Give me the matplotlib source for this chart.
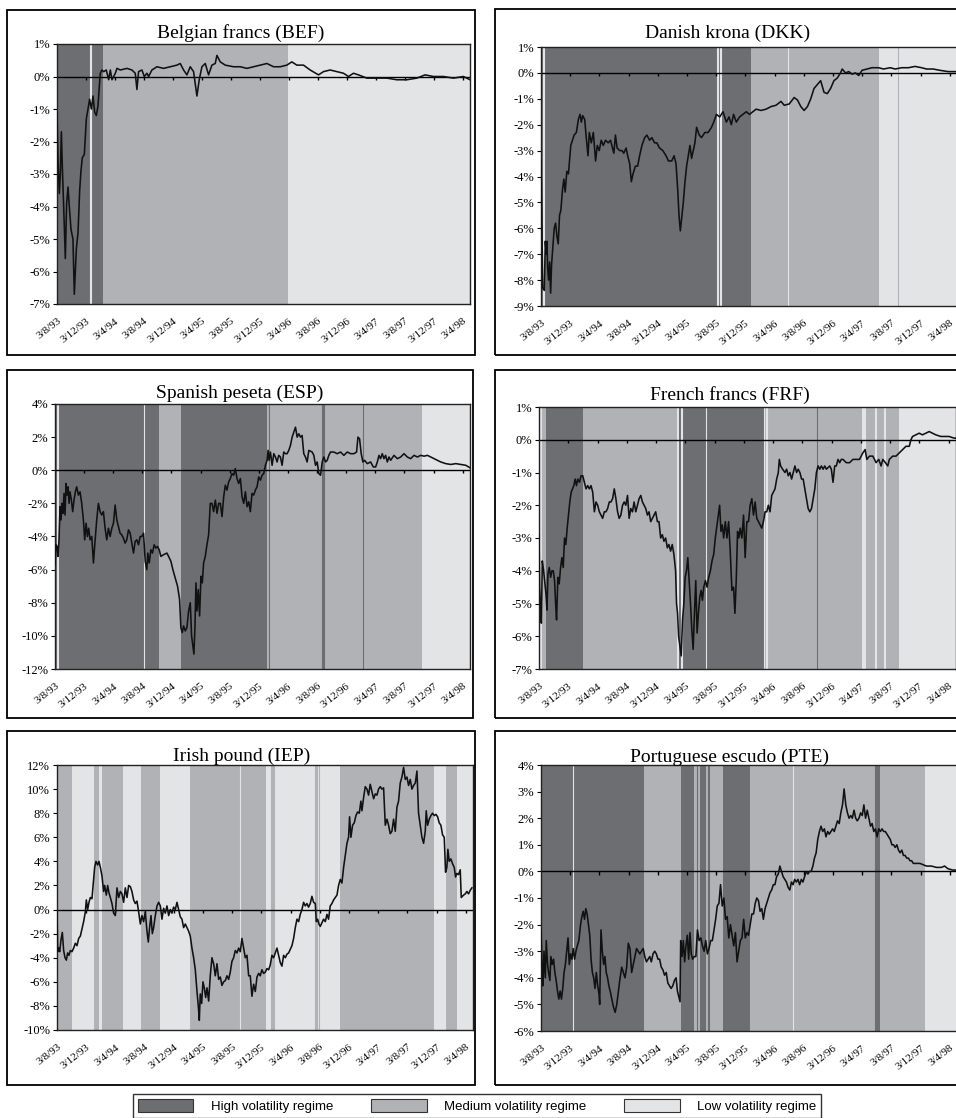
import numpy as np
import matplotlib
matplotlib.use('Agg')
import matplotlib.pyplot as plt
from matplotlib.patches import Rectangle, Patch

plt.rcParams['font.family'] = 'Liberation Serif'

W, H = 956, 1118

# x axis: months since 3 Aug 1993, one label every 4 months
tick_pos = list(range(0, 57, 4))
tick_labels = ['3/8/93', '3/12/93', '3/4/94', '3/8/94', '3/12/94', '3/4/95', '3/8/95',
               '3/12/95', '3/4/96', '3/8/96', '3/12/96', '3/4/97', '3/8/97', '3/12/97', '3/4/98']

HIGH, MED, LOW = '#6d6e71', '#b1b2b5', '#e3e4e6'
level_color = {'H': HIGH, 'M': MED, 'L': LOW}

# (month, deviation in %)
bef_pts = [(0, -1.1), (0.14, -2.6), (0.32, -3.6), (0.46, -3.0), (0.6, -1.7), (0.74, -2.8), (0.92, -4.0),
           (1.15, -5.6), (1.33, -3.9), (1.52, -3.4), (1.7, -4.0), (1.93, -4.7), (2.2, -5.0), (2.39, -6.7),
           (2.67, -5.3), (2.9, -4.8), (3.13, -3.5), (3.31, -2.9), (3.49, -2.5), (3.77, -2.4), (4.05, -1.3),
           (4.28, -1.0), (4.5, -0.7), (4.74, -1.0), (4.97, -0.6), (5.2, -1.1), (5.43, -1.2), (5.66, -0.9),
           (5.84, -0.3), (5.98, 0.1), (6.2, 0.2), (6.44, 0.15), (6.8, 0.2), (7.13, -0.1), (7.36, 0.2),
           (7.59, -0.1), (8.05, 0.1), (8.28, 0.25), (8.74, 0.2), (9.66, 0.25), (10.34, 0.2), (10.8, 0.1),
           (11.03, -0.4), (11.26, 0.15), (11.72, 0.2), (12.05, 0.0), (12.41, 0.1), (12.64, 0.0), (13.1, 0.2),
           (13.79, 0.3), (14.71, 0.25), (15.63, 0.3), (16.55, 0.35), (17.01, 0.4), (17.47, 0.2), (17.93, 0.05),
           (18.39, 0.3), (18.85, 0.15), (19.31, -0.6), (19.63, -0.1), (20.0, 0.3), (20.46, 0.4), (20.92, 0.05),
           (21.38, 0.35), (21.84, 0.4), (22.07, 0.65), (22.53, 0.45), (23.22, 0.35), (24.37, 0.3), (25.29, 0.3),
           (26.21, 0.25), (27.13, 0.3), (28.05, 0.35), (28.97, 0.4), (29.89, 0.3), (30.8, 0.3), (31.72, 0.35),
           (32.41, 0.45), (33.1, 0.35), (34.02, 0.35), (34.94, 0.2), (36.09, 0.05), (36.78, 0.15), (37.7, 0.2),
           (38.62, 0.15), (39.54, 0.1), (40.23, 0.0), (40.92, 0.1), (41.61, 0.05), (42.76, -0.05), (44.14, -0.05),
           (45.52, -0.05), (46.9, -0.1), (48.28, -0.1), (49.66, -0.05), (50.8, 0.05), (51.95, 0.0), (53.33, 0.0),
           (54.71, -0.05), (56.09, 0.0), (57.0, -0.1)]

dkk_pts = [(0, -3.4), (0.09, -5.0), (0.23, -8.3), (0.45, -8.4), (0.59, -6.5), (0.73, -7.0), (0.82, -6.5),
           (0.91, -7.5), (1.04, -8.0), (1.18, -7.3), (1.32, -8.5), (1.45, -7.4), (1.63, -6.7), (1.81, -6.0),
           (2.0, -5.8), (2.18, -6.3), (2.36, -6.6), (2.54, -5.5), (2.72, -5.3), (2.95, -4.5), (3.13, -4.1),
           (3.31, -4.6), (3.54, -3.8), (3.76, -3.9), (4.08, -2.8), (4.31, -2.6), (4.54, -2.4), (4.85, -2.3),
           (5.12, -1.8), (5.35, -1.6), (5.53, -1.9), (5.71, -1.65), (5.99, -1.8), (6.17, -2.4), (6.44, -3.2),
           (6.62, -2.3), (6.89, -2.7), (7.17, -2.3), (7.48, -3.4), (7.71, -2.8), (7.98, -3.0), (8.25, -2.6),
           (8.53, -2.8), (8.84, -2.6), (9.21, -2.7), (9.52, -2.6), (9.98, -3.1), (10.2, -2.4), (10.43, -2.9),
           (10.79, -3.0), (11.11, -3.0), (11.34, -3.1), (11.66, -2.9), (11.88, -3.2), (12.15, -3.5), (12.38, -4.2),
           (12.61, -3.9), (12.93, -3.6), (13.24, -3.6), (13.51, -3.2), (13.83, -2.8), (14.2, -2.5), (14.51, -2.4),
           (14.88, -2.6), (15.19, -2.5), (15.56, -2.7), (15.87, -2.7), (16.24, -2.9), (16.69, -3.0), (17.14, -3.2),
           (17.46, -3.4), (17.91, -3.4), (18.23, -3.2), (18.5, -3.5), (18.73, -4.5), (18.91, -5.5), (19.09, -6.1),
           (19.27, -5.6), (19.5, -5.0), (19.73, -4.2), (19.95, -3.6), (20.18, -3.2), (20.41, -2.8), (20.63, -3.3),
           (20.86, -3.0), (21.09, -2.7), (21.32, -2.1), (21.68, -2.4), (21.99, -2.5), (22.45, -2.3), (22.9, -2.3),
           (23.36, -2.1), (23.67, -1.9), (24.04, -1.6), (24.49, -1.7), (24.94, -1.5), (25.4, -1.9), (25.76, -1.7),
           (26.08, -2.0), (26.39, -1.6), (26.76, -1.9), (27.21, -1.7), (27.66, -1.6), (28.12, -1.5), (28.57, -1.6),
           (29.02, -1.5), (29.48, -1.4), (30.16, -1.45), (30.84, -1.4), (31.52, -1.3), (32.2, -1.25), (32.88, -1.1),
           (33.33, -1.25), (34.01, -1.2), (34.69, -0.95), (35.15, -1.05), (35.6, -1.3), (36.05, -1.45), (36.51, -1.3),
           (36.96, -1.0), (37.41, -0.6), (37.87, -0.45), (38.32, -0.3), (38.78, -0.75), (39.23, -0.8), (39.68, -0.6),
           (40.14, -0.3), (40.59, -0.2), (41.04, 0.0), (41.27, 0.15), (41.72, 0.0), (42.18, 0.05), (42.63, -0.05),
           (43.08, 0.0), (43.54, -0.1), (43.99, 0.1), (44.67, 0.15), (45.35, 0.2), (46.26, 0.2), (46.94, 0.15),
           (47.85, 0.2), (48.53, 0.15), (49.43, 0.2), (50.34, 0.2), (51.25, 0.25), (52.15, 0.2), (52.83, 0.15),
           (53.74, 0.15), (54.65, 0.1), (55.78, 0.05), (57.0, 0.05)]

esp_pts = [(0, -5.7), (0.14, -4.5), (0.28, -4.6), (0.41, -5.2), (0.55, -4.2), (0.69, -2.2), (0.83, -3.0),
           (0.96, -2.0), (1.1, -2.6), (1.24, -1.4), (1.38, -2.7), (1.51, -0.8), (1.65, -1.5), (1.79, -1.0),
           (1.93, -2.0), (2.06, -1.3), (2.25, -1.8), (2.43, -2.5), (2.61, -1.8), (2.8, -1.3), (2.98, -1.0),
           (3.21, -1.5), (3.44, -1.3), (3.67, -2.0), (3.9, -3.0), (4.08, -4.2), (4.27, -3.2), (4.45, -4.0),
           (4.63, -3.5), (4.82, -4.2), (5.05, -4.0), (5.28, -5.6), (5.46, -4.5), (5.73, -3.0), (5.96, -2.0),
           (6.19, -2.5), (6.42, -2.7), (6.65, -2.5), (6.88, -3.5), (7.11, -4.2), (7.34, -3.5), (7.57, -4.0),
           (7.8, -3.5), (8.03, -3.2), (8.26, -2.1), (8.49, -3.0), (8.72, -3.4), (8.94, -3.8), (9.17, -3.9),
           (9.4, -4.1), (9.63, -4.4), (9.86, -4.2), (10.09, -3.6), (10.32, -3.8), (10.55, -4.4), (10.78, -5.0),
           (11.01, -4.3), (11.24, -4.2), (11.47, -4.5), (11.7, -4.0), (11.93, -4.0), (12.16, -3.8), (12.39, -5.5),
           (12.61, -6.0), (12.75, -5.0), (12.94, -5.6), (13.17, -4.8), (13.39, -5.0), (13.62, -4.5), (13.85, -4.7),
           (14.08, -4.6), (14.31, -4.8), (14.54, -5.2), (14.91, -5.1), (15.37, -5.0), (15.6, -5.2), (15.92, -5.5),
           (16.19, -6.0), (16.51, -6.5), (16.83, -7.0), (17.11, -7.8), (17.29, -9.5), (17.48, -9.8), (17.66, -9.4),
           (17.89, -9.7), (18.12, -9.5), (18.35, -8.5), (18.58, -8.0), (18.76, -10.0), (18.94, -10.6), (19.08, -11.1),
           (19.22, -9.5), (19.36, -6.8), (19.5, -8.5), (19.68, -7.2), (19.86, -8.8), (20.05, -6.4), (20.23, -6.8),
           (20.41, -5.6), (20.64, -5.2), (20.87, -4.5), (21.1, -3.9), (21.33, -2.0), (21.56, -2.0), (21.79, -2.5),
           (22.02, -1.8), (22.25, -2.6), (22.48, -2.0), (22.71, -2.0), (22.94, -2.8), (23.17, -1.6), (23.39, -0.9),
           (23.62, -1.2), (23.85, -0.7), (24.08, -0.5), (24.31, -0.2), (24.54, -0.3), (24.77, 0.1), (25.0, -0.5),
           (25.23, -0.8), (25.46, -0.5), (25.69, -1.6), (25.92, -2.0), (26.15, -1.3), (26.38, -2.2), (26.61, -1.9),
           (26.83, -2.5), (27.06, -1.4), (27.29, -1.5), (27.52, -1.2), (27.75, -1.0), (27.98, -0.4), (28.21, -0.6),
           (28.44, -0.3), (28.67, -0.2), (28.9, 0.3), (29.13, 0.6), (29.27, 1.2), (29.4, 0.6), (29.59, 1.1),
           (29.82, 0.3), (30.05, 1.0), (30.28, 0.8), (30.5, 0.5), (30.73, 0.9), (30.96, 0.8), (31.19, 0.3),
           (31.42, 1.1), (31.65, 1.0), (31.88, 1.0), (32.11, 1.2), (32.34, 1.5), (32.57, 2.0), (32.8, 2.3),
           (33.03, 2.6), (33.26, 2.0), (33.49, 2.2), (33.72, 2.0), (33.94, 2.1), (34.17, 1.0), (34.4, 0.8),
           (34.63, 0.5), (34.86, 1.2), (35.32, 1.1), (35.55, 0.9), (35.78, 0.3), (36.01, 0.5), (36.24, -0.2),
           (36.47, -0.3), (36.7, 0.5), (36.93, 0.8), (37.16, 0.5), (37.39, 0.6), (37.61, 0.9), (37.84, 1.1),
           (38.3, 1.1), (38.76, 1.0), (39.22, 1.1), (39.68, 0.9), (40.14, 1.1), (40.6, 1.0), (41.06, 1.0),
           (41.42, 1.1), (41.61, 2.0), (41.83, 1.9), (42.06, 1.0), (42.29, 0.5), (42.52, 0.6), (42.89, 0.4),
           (43.35, 0.5), (43.72, 0.2), (44.04, 0.2), (44.27, 0.5), (44.5, 0.9), (44.72, 0.7), (44.95, 1.0),
           (45.18, 0.7), (45.41, 0.9), (45.64, 0.5), (45.87, 0.8), (46.1, 0.6), (46.56, 0.9), (47.02, 0.7),
           (47.48, 0.8), (47.94, 1.0), (48.39, 0.8), (48.85, 0.7), (49.31, 0.9), (49.77, 0.8), (50.23, 0.9),
           (50.69, 0.85), (51.15, 0.9), (51.61, 0.8), (52.06, 0.7), (52.52, 0.6), (52.98, 0.5), (53.67, 0.4),
           (54.36, 0.35), (55.05, 0.4), (55.73, 0.35), (56.42, 0.3), (57.0, 0.15)]

frf_pts = [(0, -2.9), (0.09, -4.5), (0.18, -5.0), (0.32, -5.6), (0.45, -3.7), (0.63, -4.0), (0.77, -4.3),
           (0.95, -4.7), (1.09, -5.2), (1.22, -4.1), (1.4, -3.9), (1.59, -4.2), (1.77, -4.0), (1.95, -4.0),
           (2.13, -4.3), (2.27, -5.0), (2.4, -5.5), (2.58, -4.2), (2.76, -4.4), (2.95, -3.9), (3.13, -3.6),
           (3.31, -3.9), (3.49, -3.0), (3.67, -3.2), (3.85, -2.7), (4.03, -2.3), (4.21, -1.9), (4.4, -1.6),
           (4.58, -1.5), (4.76, -1.4), (4.94, -1.2), (5.12, -1.4), (5.3, -1.2), (5.53, -1.3), (5.75, -1.1),
           (5.98, -1.1), (6.21, -1.3), (6.43, -1.5), (6.66, -1.4), (6.89, -1.5), (7.11, -1.4), (7.34, -1.6),
           (7.57, -2.2), (7.79, -1.9), (8.02, -2.0), (8.25, -2.2), (8.47, -2.3), (8.7, -2.4), (8.93, -2.2),
           (9.15, -2.2), (9.38, -2.1), (9.61, -1.9), (9.83, -1.9), (10.06, -1.8), (10.29, -1.5), (10.51, -1.8),
           (10.74, -2.2), (10.96, -2.4), (11.19, -2.3), (11.42, -2.0), (11.64, -1.9), (11.87, -2.0), (12.1, -1.7),
           (12.32, -2.4), (12.55, -2.1), (12.78, -2.2), (13.0, -1.9), (13.23, -2.2), (13.46, -2.0), (13.68, -1.8),
           (13.91, -1.7), (14.14, -1.9), (14.36, -2.0), (14.59, -2.1), (14.82, -2.3), (15.04, -2.2), (15.27, -2.5),
           (15.5, -2.4), (15.72, -2.3), (15.95, -2.2), (16.18, -2.5), (16.4, -2.5), (16.63, -3.0), (16.86, -2.9),
           (17.08, -3.1), (17.31, -3.0), (17.54, -3.3), (17.76, -3.2), (17.99, -3.4), (18.21, -3.2), (18.44, -3.5),
           (18.67, -4.0), (18.8, -5.0), (18.94, -5.3), (19.08, -6.0), (19.26, -6.3), (19.44, -6.6), (19.62, -5.5),
           (19.8, -5.0), (19.98, -4.2), (20.16, -4.0), (20.34, -3.6), (20.53, -4.3), (20.71, -5.0), (20.89, -5.8),
           (21.07, -6.4), (21.25, -5.3), (21.43, -4.3), (21.61, -5.9), (21.79, -5.3), (21.98, -4.8), (22.16, -4.6),
           (22.34, -4.9), (22.52, -4.5), (22.75, -4.3), (22.97, -4.5), (23.2, -4.2), (23.43, -4.0), (23.65, -3.7),
           (23.88, -3.5), (24.1, -3.0), (24.33, -2.6), (24.56, -2.2), (24.69, -2.0), (24.87, -2.8), (25.06, -2.6),
           (25.24, -3.0), (25.47, -2.5), (25.69, -3.0), (25.92, -2.5), (26.14, -3.4), (26.37, -4.6), (26.6, -4.5),
           (26.78, -5.3), (26.96, -4.3), (27.14, -2.8), (27.32, -3.0), (27.5, -2.7), (27.73, -3.0), (27.96, -2.3),
           (28.18, -3.6), (28.41, -2.5), (28.64, -2.5), (28.86, -2.0), (29.09, -1.8), (29.32, -2.3), (29.54, -1.9),
           (29.77, -2.4), (30.0, -2.5), (30.22, -2.6), (30.45, -2.7), (30.68, -2.5), (30.9, -2.2), (31.13, -2.2),
           (31.35, -2.0), (31.58, -2.2), (31.81, -1.7), (32.03, -1.6), (32.26, -1.5), (32.49, -1.2), (32.71, -1.0),
           (32.85, -0.6), (33.03, -0.8), (33.3, -0.9), (33.62, -1.0), (33.85, -0.9), (34.07, -1.1), (34.3, -1.0),
           (34.53, -1.2), (34.75, -1.0), (34.98, -0.8), (35.21, -1.0), (35.43, -0.9), (35.66, -1.0), (35.89, -1.2),
           (36.11, -1.2), (36.34, -1.5), (36.57, -1.8), (36.79, -2.1), (37.02, -2.2), (37.25, -2.1), (37.47, -1.8),
           (37.7, -1.5), (37.92, -1.0), (38.15, -0.8), (38.38, -0.9), (38.6, -0.8), (38.83, -0.9), (39.06, -0.8),
           (39.28, -0.9), (39.74, -0.8), (39.96, -0.9), (40.19, -1.3), (40.42, -0.8), (40.64, -0.8), (40.87, -0.6),
           (41.1, -0.7), (41.32, -0.6), (41.55, -0.6), (42.0, -0.7), (42.46, -0.7), (42.91, -0.6), (43.36, -0.6),
           (43.81, -0.6), (44.27, -0.4), (44.58, -0.3), (44.81, -0.6), (45.17, -0.5), (45.63, -0.5), (46.08, -0.7),
           (46.44, -0.6), (46.76, -0.8), (46.99, -0.6), (47.35, -0.7), (47.67, -0.8), (47.89, -0.6), (48.35, -0.5),
           (48.8, -0.5), (49.25, -0.4), (49.71, -0.3), (50.16, -0.2), (50.61, -0.2), (50.84, 0.0), (51.06, 0.1),
           (51.52, 0.15), (51.97, 0.2), (52.42, 0.15), (52.88, 0.2), (53.33, 0.25), (53.78, 0.2), (54.24, 0.15),
           (54.92, 0.1), (55.6, 0.1), (56.05, 0.1), (56.73, 0.05), (57.0, 0.05)]

iep_pts = [(0, -0.1), (0.09, -3.5), (0.23, -3.2), (0.37, -3.5), (0.55, -2.5), (0.73, -1.9), (0.91, -3.4),
           (1.1, -4.0), (1.28, -4.2), (1.46, -3.6), (1.64, -3.8), (1.83, -3.4), (2.05, -3.5), (2.28, -3.2),
           (2.51, -2.8), (2.74, -3.0), (2.97, -2.4), (3.2, -2.2), (3.42, -1.6), (3.65, -1.0), (3.88, -0.2),
           (4.02, 0.8), (4.2, 0.0), (4.38, 0.6), (4.57, 1.0), (4.79, 0.9), (5.02, 2.5), (5.16, 3.5), (5.34, 4.0),
           (5.57, 3.7), (5.75, 4.0), (5.94, 3.5), (6.16, 2.8), (6.39, 1.5), (6.53, 2.0), (6.76, 1.2), (6.94, 2.0),
           (7.12, 1.4), (7.31, 1.0), (7.53, 0.5), (7.76, -0.3), (7.99, -0.5), (8.22, 1.8), (8.45, 1.0), (8.68, 1.5),
           (8.9, 1.3), (9.13, 0.6), (9.36, 1.8), (9.59, 1.0), (9.82, 2.0), (10.05, 1.9), (10.27, 1.5), (10.5, 0.8),
           (10.73, 0.5), (10.96, 0.7), (11.19, -0.2), (11.42, -1.2), (11.64, -0.5), (11.87, -1.0), (12.1, -0.2),
           (12.33, -1.8), (12.51, -2.7), (12.69, -1.5), (12.88, -0.5), (13.06, -2.0), (13.24, -1.5), (13.47, -0.5),
           (13.7, 0.3), (13.93, 0.6), (14.16, 0.3), (14.38, -0.8), (14.61, 0.1), (14.84, -0.3), (15.07, 0.3),
           (15.3, -0.5), (15.53, 0.0), (15.75, -0.3), (15.98, 0.2), (16.21, 0.0), (16.44, 0.6), (16.67, 0.0),
           (16.89, -0.6), (17.12, -0.8), (17.35, -1.5), (17.58, -1.2), (17.81, -1.5), (18.04, -1.8), (18.26, -2.2),
           (18.49, -3.2), (18.72, -4.0), (18.95, -5.0), (19.18, -6.8), (19.36, -8.0), (19.5, -9.2), (19.63, -7.0),
           (19.82, -7.8), (20.0, -6.0), (20.18, -6.5), (20.37, -7.3), (20.55, -6.5), (20.78, -7.6), (21.0, -5.5),
           (21.23, -4.0), (21.46, -4.5), (21.69, -5.5), (21.92, -4.5), (22.15, -5.8), (22.37, -5.6), (22.6, -6.3),
           (22.83, -6.0), (23.06, -5.9), (23.29, -5.5), (23.52, -5.8), (23.74, -5.2), (23.97, -4.3), (24.2, -4.0),
           (24.43, -3.4), (24.66, -3.6), (24.89, -3.2), (25.11, -3.5), (25.34, -2.4), (25.57, -3.2), (25.8, -4.0),
           (26.03, -3.8), (26.26, -5.5), (26.48, -5.5), (26.71, -7.2), (26.94, -6.2), (27.17, -6.8), (27.4, -5.6),
           (27.63, -5.3), (27.85, -5.5), (28.08, -5.0), (28.31, -5.3), (28.54, -5.2), (28.77, -4.9), (29.0, -5.0),
           (29.22, -4.6), (29.45, -3.8), (29.68, -4.0), (29.91, -3.6), (30.14, -3.2), (30.37, -3.8), (30.59, -4.4),
           (30.82, -4.7), (31.05, -3.8), (31.28, -4.0), (31.51, -3.7), (31.74, -3.6), (31.96, -3.3), (32.19, -3.0),
           (32.42, -2.4), (32.65, -1.5), (32.88, -0.8), (33.11, -1.0), (33.33, -0.4), (33.56, 0.0), (33.79, 0.6),
           (34.02, 0.3), (34.25, 0.5), (34.47, 0.2), (34.7, 0.5), (34.93, 1.1), (35.16, 0.6), (35.39, 0.5),
           (35.53, -1.0), (35.71, -0.8), (35.89, -1.2), (36.07, -1.4), (36.3, -1.1), (36.53, -0.8), (36.76, -1.0),
           (36.99, -0.4), (37.21, -0.8), (37.44, 0.3), (37.67, 0.5), (37.9, 0.8), (38.13, 1.0), (38.36, 1.2),
           (38.58, 2.0), (38.81, 2.5), (39.04, 2.2), (39.27, 3.5), (39.5, 4.5), (39.73, 5.5), (39.95, 6.0),
           (40.09, 7.7), (40.27, 6.0), (40.5, 7.0), (40.73, 7.2), (40.96, 7.8), (41.19, 8.1), (41.42, 8.0),
           (41.64, 9.0), (41.78, 8.2), (42.01, 9.3), (42.24, 10.2), (42.47, 10.0), (42.69, 9.5), (42.92, 10.4),
           (43.15, 9.8), (43.38, 9.2), (43.61, 9.6), (43.84, 9.5), (44.06, 10.0), (44.29, 10.2), (44.52, 10.0),
           (44.75, 10.1), (44.98, 7.0), (45.21, 7.5), (45.43, 7.0), (45.66, 6.3), (45.89, 6.5), (46.12, 7.5),
           (46.35, 6.5), (46.58, 8.5), (46.8, 9.0), (47.03, 10.5), (47.26, 11.0), (47.49, 11.8), (47.72, 10.8),
           (47.95, 11.0), (48.17, 10.3), (48.4, 10.8), (48.63, 10.0), (48.86, 10.3), (49.09, 10.5), (49.32, 11.5),
           (49.54, 8.0), (49.77, 7.0), (50.0, 6.0), (50.23, 5.5), (50.46, 6.5), (50.59, 8.2), (50.78, 7.0),
           (51.0, 7.5), (51.23, 7.8), (51.46, 8.0), (51.69, 7.8), (51.92, 7.9), (52.15, 7.7), (52.37, 7.2),
           (52.6, 7.0), (52.83, 6.2), (53.06, 6.0), (53.24, 3.1), (53.42, 3.5), (53.56, 5.0), (53.74, 4.0),
           (53.97, 4.2), (54.2, 3.8), (54.43, 3.5), (54.61, 2.7), (54.79, 3.0), (55.02, 2.9), (55.25, 3.3),
           (55.39, 1.0), (55.71, 1.2), (55.94, 1.3), (56.16, 1.5), (56.39, 1.3), (56.62, 1.6), (56.85, 1.8)]

pte_pts = [(0, -2.2), (0.14, -3.5), (0.27, -4.3), (0.41, -3.0), (0.59, -4.0), (0.72, -2.6), (0.9, -3.5),
           (1.04, -3.8), (1.22, -4.1), (1.35, -3.2), (1.53, -3.5), (1.72, -3.3), (1.9, -3.8), (2.08, -4.1),
           (2.26, -4.5), (2.44, -4.8), (2.62, -4.5), (2.8, -4.8), (2.98, -4.4), (3.16, -3.8), (3.34, -3.5),
           (3.52, -3.0), (3.7, -2.5), (3.88, -3.5), (4.06, -3.1), (4.24, -3.3), (4.42, -2.9), (4.6, -3.3),
           (4.79, -3.0), (4.97, -2.8), (5.19, -2.6), (5.42, -2.0), (5.6, -1.7), (5.78, -1.5), (5.96, -1.8),
           (6.14, -1.4), (6.32, -1.6), (6.5, -2.0), (6.68, -2.4), (6.86, -3.3), (7.04, -3.8), (7.22, -4.0),
           (7.4, -4.4), (7.58, -3.8), (7.77, -4.3), (7.95, -4.6), (8.04, -5.0), (8.22, -2.2), (8.4, -3.0),
           (8.58, -3.5), (8.76, -3.2), (8.94, -3.8), (9.12, -4.0), (9.3, -4.3), (9.48, -4.5), (9.71, -4.8),
           (9.93, -5.1), (10.16, -5.3), (10.38, -5.0), (10.61, -4.5), (10.84, -4.0), (11.06, -3.6), (11.29, -3.8),
           (11.51, -4.0), (11.74, -3.6), (11.96, -2.7), (12.19, -2.9), (12.42, -3.8), (12.64, -3.5), (12.87, -3.2),
           (13.09, -2.9), (13.32, -3.0), (13.54, -3.1), (13.77, -3.0), (14.0, -2.9), (14.22, -3.2), (14.45, -3.4),
           (14.67, -3.3), (14.9, -3.2), (15.12, -3.4), (15.35, -3.1), (15.58, -3.0), (15.8, -3.1), (16.03, -3.3),
           (16.25, -3.3), (16.48, -3.6), (16.7, -3.7), (16.93, -3.9), (17.16, -3.8), (17.38, -4.2), (17.61, -4.3),
           (17.83, -4.4), (18.06, -4.3), (18.28, -4.1), (18.51, -4.0), (18.69, -4.5), (18.87, -4.7), (19.05, -4.9),
           (19.14, -2.6), (19.32, -3.2), (19.5, -2.6), (19.68, -3.4), (19.86, -2.8), (20.05, -2.4), (20.23, -3.3),
           (20.41, -2.3), (20.59, -3.1), (20.77, -3.3), (20.99, -3.2), (21.22, -3.2), (21.44, -2.2), (21.67, -2.6),
           (21.9, -2.5), (22.12, -2.8), (22.35, -3.0), (22.57, -2.6), (22.8, -3.1), (23.02, -2.9), (23.25, -2.6),
           (23.48, -2.6), (23.7, -2.2), (23.93, -1.8), (24.15, -1.3), (24.38, -1.2), (24.6, -0.5), (24.83, -1.3),
           (25.06, -1.0), (25.28, -1.8), (25.51, -1.7), (25.73, -2.5), (25.96, -2.0), (26.19, -2.4), (26.41, -2.8),
           (26.64, -2.3), (26.86, -3.4), (27.09, -3.0), (27.31, -2.6), (27.54, -2.5), (27.77, -1.8), (27.99, -2.5),
           (28.22, -2.3), (28.44, -2.4), (28.67, -2.0), (28.89, -1.6), (29.12, -1.6), (29.35, -1.2), (29.57, -1.0),
           (29.8, -1.1), (30.02, -1.5), (30.25, -1.4), (30.47, -1.8), (30.7, -1.4), (30.93, -1.2), (31.15, -1.0),
           (31.38, -0.8), (31.6, -0.7), (31.83, -0.5), (32.05, -0.5), (32.28, -0.2), (32.51, -0.1), (32.73, 0.2),
           (32.96, 0.0), (33.18, -0.2), (33.41, -0.3), (33.63, -0.4), (33.86, -0.6), (34.09, -0.7), (34.31, -0.4),
           (34.54, -0.5), (34.76, -0.3), (34.99, -0.4), (35.21, -0.3), (35.44, -0.5), (35.67, -0.3), (35.89, -0.4),
           (36.12, -0.2), (36.34, 0.0), (36.57, -0.1), (36.79, 0.0), (37.02, 0.0), (37.25, 0.2), (37.47, 0.5),
           (37.7, 0.7), (37.92, 1.2), (38.15, 1.5), (38.37, 1.7), (38.6, 1.5), (38.83, 1.6), (39.05, 1.3),
           (39.28, 1.5), (39.5, 1.4), (39.73, 1.5), (39.95, 1.6), (40.18, 1.5), (40.41, 1.7), (40.63, 1.9),
           (40.86, 1.8), (41.08, 2.2), (41.31, 2.5), (41.53, 3.1), (41.76, 2.5), (41.99, 2.2), (42.21, 2.0),
           (42.44, 2.1), (42.66, 2.0), (42.89, 2.3), (43.12, 2.0), (43.34, 1.9), (43.57, 2.0), (43.79, 2.2),
           (44.02, 2.1), (44.24, 2.5), (44.47, 2.0), (44.7, 2.3), (44.92, 2.0), (45.15, 1.7), (45.37, 1.8),
           (45.6, 1.5), (45.82, 1.6), (46.05, 1.3), (46.28, 1.6), (46.5, 1.5), (46.73, 1.6), (46.95, 1.5),
           (47.18, 1.5), (47.4, 1.4), (47.63, 1.3), (47.86, 1.2), (48.08, 1.0), (48.31, 1.0), (48.53, 0.9),
           (48.76, 1.0), (48.98, 0.8), (49.21, 0.7), (49.44, 0.8), (49.66, 0.6), (49.89, 0.6), (50.11, 0.5),
           (50.34, 0.5), (50.56, 0.4), (50.79, 0.4), (51.02, 0.3), (51.47, 0.3), (51.92, 0.3), (52.37, 0.25),
           (52.82, 0.2), (53.5, 0.2), (54.18, 0.15), (54.85, 0.15), (55.3, 0.2), (55.76, 0.1), (56.43, 0.05),
           (57.0, 0.05)]

# regime spans (start month, end month, level); narrow entries are drawn over the wide ones
bef_regimes = [(0, 6.3, 'H'), (6.3, 31.86, 'M'), (31.86, 57, 'L'), (4.6, 4.68, 'L')]
dkk_regimes = [(0, 28.8, 'H'), (28.8, 46.35, 'M'), (46.35, 57, 'L'),
               (0.3, 0.36, 'L'), (24.15, 24.21, 'L'), (24.55, 24.61, 'L'), (33.85, 33.91, 'L'), (48.85, 48.95, 'M')]
esp_regimes = [(0, 14.31, 'H'), (14.31, 17.34, 'M'), (17.34, 29.15, 'H'), (29.15, 50.4, 'M'), (50.4, 57, 'L'),
               (0.3, 0.36, 'L'), (12.22, 12.28, 'L'), (29.35, 29.45, 'H'), (36.7, 37.0, 'H'), (42.25, 42.33, 'H')]
frf_regimes = [(0, 0.4, 'L'), (0.4, 0.95, 'M'), (0.95, 5.98, 'H'), (5.98, 18.9, 'M'), (18.9, 19.08, 'L'),
               (19.08, 30.7, 'H'), (30.7, 49.2, 'M'), (49.2, 57, 'L'),
               (19.42, 19.48, 'L'), (22.77, 22.83, 'L'), (30.72, 30.8, 'L'), (31.08, 31.16, 'L'),
               (37.95, 38.05, 'H'), (44.16, 44.7, 'L'), (45.95, 46.02, 'L'), (47.17, 47.24, 'L')]
iep_regimes = [(0, 2.05, 'M'), (2.05, 5.11, 'L'), (5.11, 5.75, 'M'), (5.75, 6.2, 'L'), (6.2, 9.04, 'M'),
               (9.04, 11.55, 'L'), (11.55, 14.16, 'M'), (14.16, 18.26, 'L'), (18.26, 28.68, 'M'),
               (28.68, 38.81, 'L'), (38.81, 51.69, 'M'), (51.69, 52.83, 'L'), (52.83, 54.79, 'M'), (54.79, 57, 'L'),
               (25.07, 25.13, 'L'), (29.35, 29.45, 'M'), (29.62, 29.7, 'M'), (35.4, 35.6, 'M'), (35.86, 35.94, 'M'),
               (52.95, 53.15, 'L')]
pte_regimes = [(0, 14.13, 'H'), (14.13, 19.2, 'M'), (19.2, 21.0, 'H'), (21.0, 21.8, 'M'), (21.8, 22.6, 'H'),
               (22.6, 24.9, 'M'), (24.9, 28.8, 'H'), (28.8, 52.6, 'M'), (52.6, 57, 'L'),
               (4.35, 4.41, 'L'), (21.35, 21.42, 'H'), (22.93, 23.0, 'H'), (28.6, 28.7, 'M'), (34.5, 34.56, 'L'),
               (45.73, 45.95, 'H'), (46.1, 46.5, 'H')]

# title, points, regimes, y range and step
panels = [
    ('Belgian francs (BEF)', bef_pts, bef_regimes, (-7, 1, 1)),
    ('Danish krona (DKK)', dkk_pts, dkk_regimes, (-9, 1, 1)),
    ('Spanish peseta (ESP)', esp_pts, esp_regimes, (-12, 4, 2)),
    ('French francs (FRF)', frf_pts, frf_regimes, (-7, 1, 1)),
    ('Irish pound (IEP)', iep_pts, iep_regimes, (-10, 12, 2)),
    ('Portuguese escudo (PTE)', pte_pts, pte_regimes, (-6, 4, 1)),
]

# pixel layout: frame box, plot area, title centre
layout = [
    ((7, 10, 475, 355), (57, 44, 470, 304), (241, 33)),
    ((495, 9, 964, 355), (541, 47, 957, 306), (728, 33)),
    ((7, 370, 473, 718), (55, 404, 470, 669), (240, 393)),
    ((495, 370, 964, 718), (539, 407, 956, 669), (730, 395)),
    ((7, 731, 475, 1085), (57, 765, 473, 1030), (242, 756)),
    ((495, 731, 964, 1085), (541, 765, 957, 1031), (730, 757)),
]


def fig_rect(x0, y0, x1, y1):
    return [x0 / W, 1 - y1 / H, (x1 - x0) / W, (y1 - y0) / H]


def draw_panel(fig, title, pts, regimes, yr, box, area, tpos):
    bx = fig_rect(*box)
    fig.add_artist(Rectangle((bx[0], bx[1]), bx[2], bx[3], transform=fig.transFigure,
                             fill=False, ec='black', lw=1.3))
    ax = fig.add_axes(fig_rect(*area))
    for a, b, lvl in regimes:
        narrow = (b - a) < 0.3
        ax.axvspan(a, b, color=level_color[lvl], lw=0.8 if narrow else 0, zorder=0)
    ymin, ymax, step = yr
    ax.axhline(0, color='black', lw=1.0, zorder=2)
    zero = (0 - ymin) / (ymax - ymin)
    ax.vlines(tick_pos[1:], zero - 0.012, zero, color='black', lw=1.0,
              transform=ax.get_xaxis_transform(), zorder=2)
    t, v = zip(*pts)
    ax.plot(t, v, color='#111111', lw=1.15, zorder=3)
    ax.set_xlim(0, 57)
    ax.set_ylim(ymin, ymax)
    yt = np.arange(ymin, ymax + step / 2, step)
    ax.set_yticks(yt)
    ax.set_yticklabels(['%d%%' % y for y in yt], fontsize=9)
    ax.set_xticks(tick_pos)
    ax.set_xticklabels(tick_labels, rotation=38, ha='right', va='top',
                       rotation_mode='anchor', fontsize=8)
    ax.tick_params(axis='x', length=0, pad=9)
    ax.tick_params(axis='y', length=3, width=0.8, pad=2)
    for s in ax.spines.values():
        s.set_color('#222222')
        s.set_linewidth(1.0)
    fig.text(tpos[0] / W, 1 - tpos[1] / H, title, ha='center', va='center', fontsize=14)
    return ax


fig = plt.figure(figsize=(W / 100, H / 100), dpi=100)
for (title, pts, regimes, yr), (box, area, tpos) in zip(panels, layout):
    draw_panel(fig, title, pts, regimes, yr, box, area, tpos)

handles = [Patch(fc=HIGH, ec='#333333', lw=0.8, label='High volatility regime'),
           Patch(fc=MED, ec='#333333', lw=0.8, label='Medium volatility regime'),
           Patch(fc=LOW, ec='#333333', lw=0.8, label='Low volatility regime')]
leg = fig.legend(handles=handles, loc='center', bbox_to_anchor=(477 / W, 1 - 1106 / H), ncol=3,
                 frameon=True, fancybox=False, edgecolor='black',
                 prop={'family': 'Liberation Sans', 'size': 9.5},
                 handlelength=4.2, handleheight=1.1, columnspacing=2.9, handletextpad=1.3,
                 borderpad=0.35)
leg.get_frame().set_linewidth(1.0)

fig.savefig('out.png', dpi=100)
